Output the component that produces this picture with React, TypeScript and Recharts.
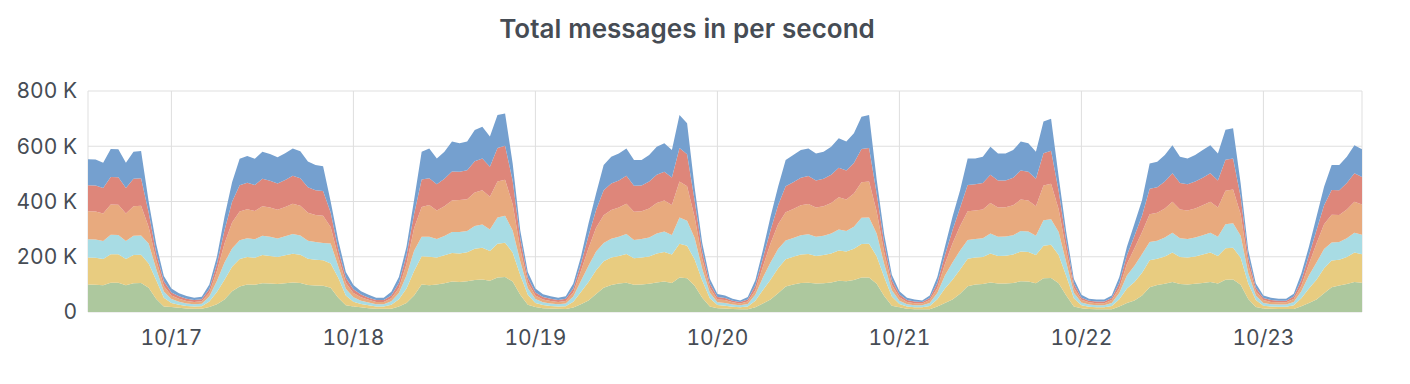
import { Area, AreaChart, CartesianGrid, XAxis, YAxis } from "recharts";

// hourly samples, 10/16 13:00 -> 10/23 13:00, values in K msg/s
const START = Date.UTC(2020, 9, 16, 13);
const HOUR = 3600 * 1000;

const dayTicks = [17, 18, 19, 20, 21, 22, 23].map((d) => Date.UTC(2020, 9, d));
const yTicks = [0, 200, 400, 600, 800];

const green = [
  100, 99, 97, 106, 106, 97, 104, 105, 88, 47, 20,
  18, 15, 13, 12, 12, 18, 28, 45, 75, 92, 100, 99, 104, 103, 101, 104, 107, 105, 98, 96, 95, 88, 52, 24,
  20, 17, 14, 12, 12, 12, 20, 33, 60, 100, 97, 100, 104, 110, 109, 111, 116, 118, 113, 125, 127, 110, 62, 26,
  18, 14, 13, 12, 11, 16, 28, 42, 65, 88, 98, 103, 106, 99, 100, 102, 107, 110, 105, 125, 122, 95, 52, 20,
  14, 13, 11, 10, 10, 17, 31, 45, 68, 92, 100, 105, 106, 103, 104, 107, 113, 111, 116, 125, 125, 102, 58, 23,
  17, 12, 10, 10, 10, 20, 33, 45, 66, 93, 100, 101, 107, 103, 103, 105, 111, 110, 104, 122, 123, 104, 60, 20,
  14, 11, 10, 10, 10, 20, 33, 42, 60, 90, 98, 102, 109, 101, 100, 102, 105, 109, 103, 117, 118, 99, 47, 18,
  13, 12, 11, 11, 11, 21, 33, 45, 68, 90, 96, 101, 109, 106,
];

const yellow = [
  97, 97, 95, 103, 103, 95, 102, 102, 88, 68, 32,
  15, 11, 9, 8, 9, 20, 44, 72, 89, 100, 99, 97, 102, 100, 98, 101, 104, 102, 95, 93, 92, 88, 72, 36,
  17, 12, 10, 8, 8, 14, 26, 52, 88, 102, 103, 97, 101, 104, 103, 105, 113, 115, 108, 122, 124, 105, 72, 36,
  15, 11, 9, 8, 10, 21, 44, 67, 86, 96, 99, 100, 104, 96, 97, 99, 105, 107, 103, 122, 118, 95, 62, 30,
  11, 10, 8, 7, 10, 24, 49, 72, 90, 99, 100, 103, 104, 100, 102, 105, 110, 108, 113, 121, 122, 100, 68, 33,
  12, 8, 7, 7, 12, 26, 52, 72, 88, 100, 97, 98, 105, 100, 101, 103, 108, 107, 102, 118, 120, 102, 70, 30,
  10, 8, 7, 7, 12, 26, 52, 67, 82, 97, 95, 99, 106, 98, 97, 99, 103, 106, 100, 114, 115, 97, 56, 25,
  10, 8, 8, 8, 13, 29, 52, 72, 90, 96, 93, 98, 106, 103,
];

const cyan = [
  66, 66, 65, 71, 70, 65, 70, 70, 72, 40, 22,
  14, 11, 9, 8, 9, 18, 40, 62, 66, 68, 68, 67, 70, 69, 67, 69, 71, 70, 65, 64, 63, 72, 42, 24,
  16, 12, 10, 8, 8, 13, 23, 47, 74, 70, 72, 67, 70, 76, 78, 77, 82, 84, 78, 95, 97, 80, 50, 24,
  14, 10, 9, 8, 10, 19, 40, 58, 68, 66, 68, 69, 72, 66, 67, 69, 72, 74, 71, 95, 90, 78, 42, 20,
  10, 10, 8, 7, 9, 21, 45, 62, 70, 68, 68, 70, 71, 69, 70, 72, 76, 74, 80, 95, 95, 82, 47, 23,
  12, 8, 7, 7, 11, 23, 47, 62, 69, 68, 67, 68, 72, 69, 69, 70, 74, 74, 70, 92, 93, 84, 49, 20,
  10, 8, 7, 7, 11, 23, 47, 58, 68, 66, 65, 69, 72, 68, 67, 69, 70, 72, 69, 87, 88, 80, 37, 17,
  10, 8, 8, 8, 12, 25, 47, 62, 70, 66, 64, 68, 72, 71,
];

const orange = [
  102, 102, 100, 109, 109, 100, 107, 108, 60, 32, 20,
  13, 11, 9, 8, 9, 14, 36, 69, 94, 104, 105, 103, 107, 106, 104, 106, 110, 108, 101, 98, 98, 60, 34, 22,
  16, 12, 10, 8, 8, 11, 18, 42, 81, 108, 115, 103, 108, 114, 115, 115, 122, 124, 118, 130, 131, 95, 45, 21,
  13, 10, 9, 8, 9, 15, 36, 64, 86, 100, 104, 106, 110, 102, 101, 105, 111, 113, 108, 130, 125, 75, 36, 18,
  10, 10, 8, 7, 9, 17, 40, 69, 90, 102, 105, 108, 110, 106, 107, 111, 116, 114, 120, 129, 130, 80, 42, 20,
  12, 8, 8, 7, 10, 18, 42, 69, 88, 104, 103, 104, 111, 106, 106, 108, 114, 113, 107, 126, 128, 82, 44, 18,
  10, 8, 8, 8, 10, 18, 42, 64, 80, 101, 101, 105, 112, 104, 103, 105, 108, 112, 106, 121, 122, 78, 32, 15,
  10, 8, 8, 8, 11, 20, 42, 69, 90, 100, 98, 104, 112, 109,
];

const red = [
  94, 94, 92, 100, 100, 92, 99, 99, 52, 26, 17,
  11, 9, 8, 7, 7, 13, 26, 48, 75, 95, 96, 94, 99, 97, 95, 98, 101, 99, 93, 90, 90, 52, 27, 18,
  13, 10, 8, 7, 7, 10, 18, 31, 52, 100, 97, 95, 99, 105, 103, 105, 113, 115, 109, 122, 123, 85, 37, 17,
  11, 9, 8, 7, 8, 14, 26, 45, 64, 91, 96, 98, 101, 94, 93, 97, 102, 104, 100, 122, 116, 60, 28, 15,
  9, 8, 6, 5, 7, 16, 30, 48, 68, 94, 97, 100, 101, 98, 99, 102, 107, 105, 110, 120, 122, 65, 33, 17,
  10, 7, 6, 5, 8, 18, 31, 48, 66, 95, 95, 96, 102, 98, 97, 100, 105, 104, 99, 117, 120, 66, 34, 15,
  8, 6, 6, 6, 8, 18, 31, 45, 59, 92, 93, 97, 103, 96, 95, 97, 100, 103, 98, 112, 113, 62, 26, 13,
  8, 7, 6, 6, 9, 20, 31, 48, 68, 90, 90, 96, 103, 100,
];

const blue = [
  94, 94, 91, 101, 101, 91, 98, 99, 40, 32, 19,
  14, 11, 10, 9, 9, 17, 26, 49, 71, 96, 97, 95, 98, 97, 95, 97, 99, 98, 93, 91, 90, 40, 33, 21,
  16, 12, 10, 9, 9, 13, 22, 31, 50, 100, 108, 94, 98, 108, 103, 104, 113, 115, 109, 119, 117, 63, 30, 21,
  14, 10, 9, 9, 9, 18, 26, 44, 60, 91, 97, 98, 99, 93, 92, 96, 101, 103, 99, 119, 112, 47, 30, 17,
  11, 9, 7, 6, 9, 20, 29, 49, 67, 95, 98, 100, 100, 98, 98, 101, 107, 105, 108, 117, 119, 51, 32, 19,
  12, 9, 7, 6, 9, 22, 31, 49, 64, 96, 94, 95, 101, 98, 98, 100, 105, 103, 98, 115, 116, 52, 33, 17,
  10, 7, 7, 7, 9, 22, 31, 44, 56, 92, 92, 96, 102, 95, 94, 96, 100, 102, 98, 109, 109, 49, 26, 15,
  9, 9, 7, 7, 10, 24, 31, 49, 67, 90, 91, 95, 102, 100,
];

const SERIES = [
  { key: "green", color: "#ADC89E" },
  { key: "yellow", color: "#E8CC80" },
  { key: "cyan", color: "#A8DCE4" },
  { key: "orange", color: "#E8AA7E" },
  { key: "red", color: "#DE867A" },
  { key: "blue", color: "#75A0CF" },
];

const TEXT = "#464C54";
const FONT = "Inter, Roboto, sans-serif";

function buildData() {
  return green.map((_, i) => ({
    t: START + i * HOUR,
    green: green[i],
    yellow: yellow[i],
    cyan: cyan[i],
    orange: orange[i],
    red: red[i],
    blue: blue[i],
  }));
}

const fmtDay = (t: number) => {
  const d = new Date(t);
  return `${d.getUTCMonth() + 1}/${d.getUTCDate()}`;
};

const fmtK = (v: number) => (v === 0 ? "0" : `${v} K`);

export default function App() {
  const data = buildData();
  return (
    <div
      style={{
        position: "absolute",
        left: 0,
        top: 0,
        width: 1410,
        height: 384,
        background: "#fff",
        fontFamily: FONT,
        fontFeatureSettings: '"tnum"',
      }}
    >
      <div
        style={{
          position: "absolute",
          left: 0,
          top: 14,
          width: 1374,
          height: 30,
          lineHeight: "30px",
          textAlign: "center",
          fontSize: 26,
          fontWeight: 600,
          color: TEXT,
        }}
      >
        Total messages in per second
      </div>
      <AreaChart width={1410} height={384} data={data} margin={{ top: 91, right: 48, bottom: 42, left: 0 }}>
        <CartesianGrid stroke="#DFDFDF" />
        <XAxis
          dataKey="t"
          type="number"
          domain={[START, START + 168 * HOUR]}
          ticks={dayTicks}
          tickFormatter={fmtDay}
          axisLine={false}
          tickLine={false}
          tickMargin={12}
          height={30}
          tick={{ fill: TEXT, fontSize: 21, fontFamily: FONT }}
        />
        <YAxis
          domain={[0, 800]}
          ticks={yTicks}
          tickFormatter={fmtK}
          axisLine={false}
          tickLine={false}
          tickMargin={5}
          width={88}
          tick={{ fill: TEXT, fontSize: 21, fontFamily: FONT }}
        />
        {SERIES.map((s) => (
          <Area
            key={s.key}
            dataKey={s.key}
            stackId="1"
            type="linear"
            stroke="none"
            fill={s.color}
            fillOpacity={1}
            isAnimationActive={false}
          />
        ))}
      </AreaChart>
    </div>
  );
}
